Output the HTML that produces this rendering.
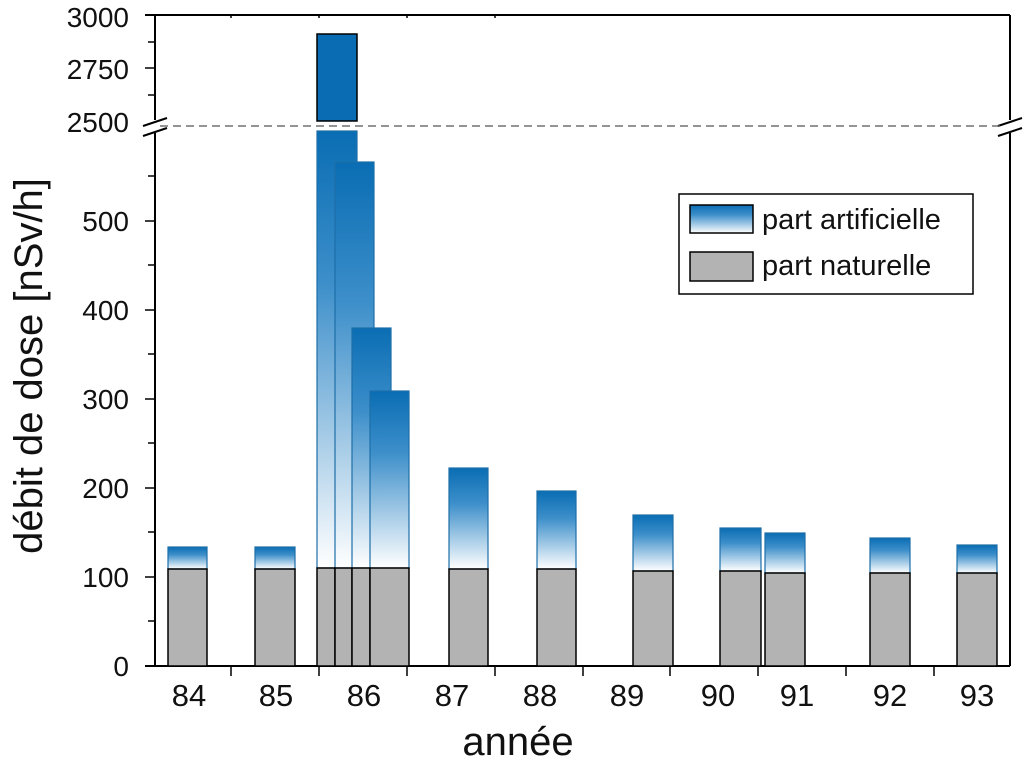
<!DOCTYPE html>
<html><head><meta charset="utf-8"><style>body{margin:0;background:#fff}svg{display:block}</style></head>
<body>
<svg width="1024" height="764" viewBox="0 0 1024 764" xmlns="http://www.w3.org/2000/svg" font-family="Liberation Sans, sans-serif">
<defs>
<linearGradient id="g" x1="0" y1="0" x2="0" y2="1">
<stop offset="0" stop-color="#0a6db3"/><stop offset="0.35" stop-color="#3d8fca"/><stop offset="1" stop-color="#ffffff"/>
</linearGradient>
</defs>
<g stroke="#000" stroke-width="2" fill="none">
<line x1="145" y1="15" x2="1010" y2="15"/>
<line x1="155" y1="15" x2="155" y2="120"/>
<line x1="155" y1="133" x2="155" y2="666"/>
<line x1="1010" y1="15" x2="1010" y2="120"/>
<line x1="1010" y1="133" x2="1010" y2="666"/>
<line x1="145" y1="666" x2="1010" y2="666"/>
<line x1="143" y1="126" x2="167" y2="118"/><line x1="143" y1="136" x2="167" y2="128"/>
<line x1="998" y1="126" x2="1022" y2="118"/><line x1="998" y1="136" x2="1022" y2="128"/>
</g>
<line x1="160" y1="126" x2="1005" y2="126" stroke="#555" stroke-width="1.3" stroke-dasharray="8,5"/>
<g stroke="#000" stroke-width="1.5">
<line x1="145" y1="68" x2="155" y2="68"/><line x1="148" y1="42" x2="155" y2="42"/><line x1="148" y1="95" x2="155" y2="95"/>
<line x1="145" y1="577" x2="155" y2="577"/><line x1="145" y1="488" x2="155" y2="488"/><line x1="145" y1="399" x2="155" y2="399"/><line x1="145" y1="310" x2="155" y2="310"/><line x1="145" y1="221" x2="155" y2="221"/>
<line x1="148" y1="621" x2="155" y2="621"/><line x1="148" y1="532" x2="155" y2="532"/><line x1="148" y1="443" x2="155" y2="443"/><line x1="148" y1="354" x2="155" y2="354"/><line x1="148" y1="265" x2="155" y2="265"/><line x1="148" y1="176" x2="155" y2="176"/>
<line x1="231" y1="666" x2="231" y2="676"/><line x1="319" y1="666" x2="319" y2="676"/><line x1="407" y1="666" x2="407" y2="676"/><line x1="495" y1="666" x2="495" y2="676"/><line x1="583" y1="666" x2="583" y2="676"/><line x1="670" y1="666" x2="670" y2="676"/><line x1="758" y1="666" x2="758" y2="676"/><line x1="846" y1="666" x2="846" y2="676"/><line x1="934" y1="666" x2="934" y2="676"/>
<line x1="231" y1="15" x2="231" y2="18"/><line x1="319" y1="15" x2="319" y2="18"/><line x1="407" y1="15" x2="407" y2="18"/><line x1="495" y1="15" x2="495" y2="18"/>
</g>
<g stroke="#1d6fa8" stroke-width="1.2" fill="url(#g)">
<rect x="168" y="547" width="39" height="22"/>
<rect x="255" y="547" width="40" height="22"/>
<rect x="317" y="131" width="40" height="437"/>
<rect x="335" y="162" width="39" height="406"/>
<rect x="352" y="328" width="39" height="240"/>
<rect x="370" y="391" width="39" height="177"/>
<rect x="449" y="468" width="39" height="101"/>
<rect x="537" y="491" width="39" height="78"/>
<rect x="633" y="515" width="40" height="56"/>
<rect x="720" y="528" width="41" height="43"/>
<rect x="765" y="533" width="40" height="40"/>
<rect x="870" y="538" width="40" height="35"/>
<rect x="957" y="545" width="40" height="28"/>
</g>
<rect x="317" y="34" width="40" height="87" fill="#0a6db3" stroke="#000" stroke-width="1.5"/>
<g stroke="#000" stroke-width="1.5" fill="#b3b3b3">
<rect x="168" y="569" width="39" height="97"/>
<rect x="255" y="569" width="40" height="97"/>
<rect x="317" y="568" width="18" height="98"/>
<rect x="335" y="568" width="17" height="98"/>
<rect x="352" y="568" width="18" height="98"/>
<rect x="370" y="568" width="39" height="98"/>
<rect x="449" y="569" width="39" height="97"/>
<rect x="537" y="569" width="39" height="97"/>
<rect x="633" y="571" width="40" height="95"/>
<rect x="720" y="571" width="41" height="95"/>
<rect x="765" y="573" width="40" height="93"/>
<rect x="870" y="573" width="40" height="93"/>
<rect x="957" y="573" width="40" height="93"/>
</g>
<rect x="679" y="194" width="294" height="100" fill="#fff" stroke="#000" stroke-width="1.5"/>
<rect x="690" y="205" width="63" height="28" fill="url(#g)" stroke="#000" stroke-width="1.5"/>
<rect x="690" y="252" width="63" height="29" fill="#b3b3b3" stroke="#000" stroke-width="1.5"/>
<g font-size="29" fill="#111">
<text x="762" y="229">part artificielle</text>
<text x="762" y="275">part naturelle</text>
</g>
<g font-size="28" fill="#111" text-anchor="end">
<text x="129" y="27">3000</text><text x="129" y="79">2750</text><text x="129" y="132">2500</text>
<text x="129" y="231">500</text><text x="129" y="320">400</text><text x="129" y="409">300</text><text x="129" y="498">200</text><text x="129" y="587">100</text><text x="129" y="676">0</text>
</g>
<g font-size="31" fill="#111" text-anchor="middle">
<text x="189" y="706">84</text><text x="276" y="706">85</text><text x="364" y="706">86</text><text x="452" y="706">87</text><text x="540" y="706">88</text><text x="627" y="706">89</text><text x="718" y="706">90</text><text x="797" y="706">91</text><text x="890" y="706">92</text><text x="977" y="706">93</text>
</g>
<text x="518" y="755" font-size="40" text-anchor="middle" fill="#111">année</text>
<text transform="translate(42,366) rotate(-90)" font-size="40" text-anchor="middle" fill="#111">débit de dose [nSv/h]</text>
</svg>
</body></html>
